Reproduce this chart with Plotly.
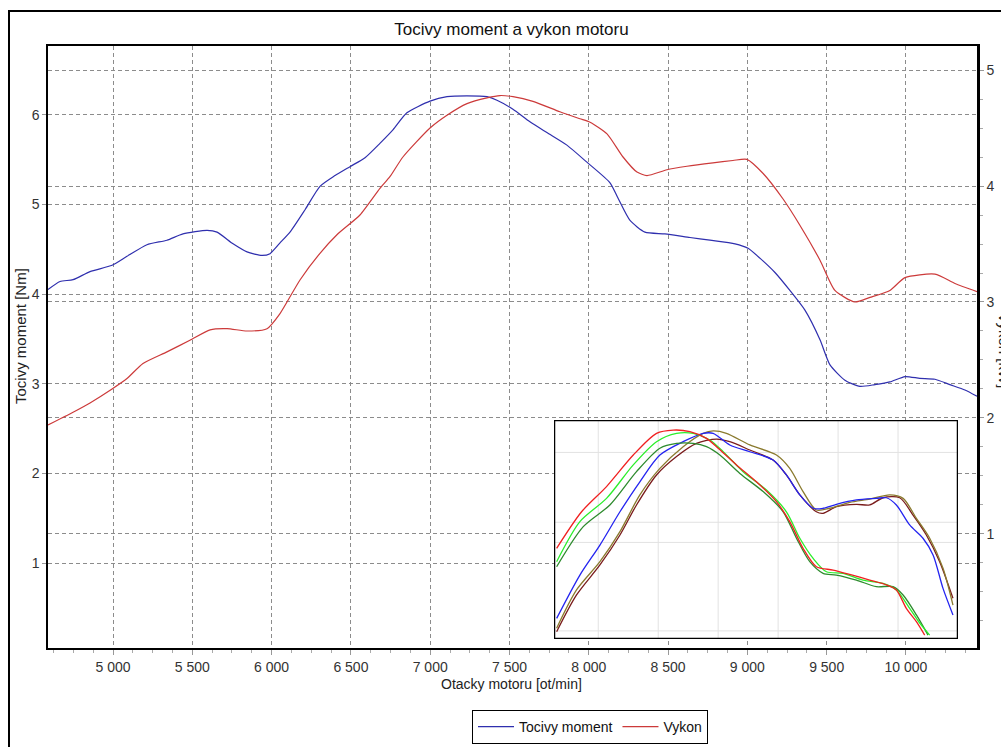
import plotly.graph_objects as go

# ---- main chart data ----
rpm_torque = [4590, 4666, 4748, 4855, 4994, 5088, 5214, 5340, 5441, 5593, 5656, 5757, 5845, 5939, 5990,
              6053, 6116, 6211, 6305, 6400, 6494, 6589, 6683, 6765, 6853, 6999, 7106, 7232, 7358, 7421,
              7522, 7629, 7736, 7862, 7988, 8134, 8184, 8260, 8354, 8480, 8638, 8764, 8922, 9004, 9079,
              9174, 9268, 9363, 9458, 9521, 9615, 9710, 9804, 9899, 9994, 10088, 10183, 10277, 10372, 10448]
torque_nm = [4.05, 4.14, 4.16, 4.25, 4.32, 4.42, 4.55, 4.60, 4.67, 4.71, 4.69, 4.56, 4.47, 4.43, 4.45,
             4.57, 4.69, 4.94, 5.20, 5.32, 5.42, 5.52, 5.68, 5.83, 6.02, 6.15, 6.20, 6.21, 6.20, 6.16,
             6.06, 5.92, 5.80, 5.66, 5.47, 5.24, 5.07, 4.82, 4.69, 4.67, 4.63, 4.60, 4.56, 4.51, 4.40,
             4.24, 4.04, 3.82, 3.49, 3.21, 3.04, 2.97, 2.99, 3.02, 3.08, 3.06, 3.05, 2.99, 2.93, 2.86]

rpm_power = [4590, 4748, 4855, 4994, 5088, 5189, 5340, 5485, 5612, 5719, 5845, 5971, 6053, 6179, 6305,
             6412, 6557, 6683, 6746, 6828, 6999, 7106, 7232, 7358, 7440, 7522, 7648, 7818, 7944, 8008,
             8115, 8216, 8304, 8367, 8493, 8619, 8783, 8909, 8997, 9098, 9224, 9332, 9458, 9552, 9678,
             9773, 9899, 9994, 10183, 10309, 10448]
power_kw = [1.94, 2.05, 2.13, 2.25, 2.34, 2.47, 2.57, 2.67, 2.76, 2.77, 2.75, 2.77, 2.90, 3.19, 3.42,
            3.58, 3.75, 3.98, 4.08, 4.25, 4.50, 4.61, 4.71, 4.76, 4.78, 4.77, 4.73, 4.64, 4.58, 4.55,
            4.45, 4.25, 4.12, 4.09, 4.14, 4.17, 4.20, 4.22, 4.23, 4.11, 3.89, 3.66, 3.36, 3.10, 3.00,
            3.04, 3.10, 3.21, 3.24, 3.16, 3.09]

# ---- inset comparison curves (relative units) ----
inset_red_x = [7153, 7361, 7569, 7792, 7986, 8125, 8264, 8403, 8486, 8653, 8819, 8986, 9097, 9208, 9319,
               9458, 9597, 9764, 9903, 9986, 10069, 10153, 10222]
inset_red_y = [41.4, 58.1, 69.6, 84.0, 93.9, 95.4, 94.7, 91.6, 87.8, 79.5, 71.8, 62.7, 53.6, 41.4, 33.0,
               31.5, 29.5, 26.9, 24.7, 22.4, 14.0, 7.9, 1.8]
inset_lgreen_x = [7153, 7347, 7569, 7792, 7986, 8153, 8292, 8431, 8542, 8708, 8903, 9069, 9181, 9292, 9403,
                  9542, 9708, 9875, 9986, 10097, 10181, 10264]
inset_lgreen_y = [35.3, 53.6, 64.2, 79.5, 90.1, 93.9, 93.9, 90.9, 85.5, 76.4, 68.0, 58.1, 46.0, 36.8, 30.7,
                  30.0, 26.9, 25.4, 22.4, 14.0, 7.2, 1.8]
inset_dgreen_x = [7153, 7375, 7597, 7819, 8014, 8153, 8292, 8403, 8514, 8681, 8875, 9042, 9153, 9264, 9375,
                  9486, 9653, 9819, 9958, 10042, 10153, 10250]
inset_dgreen_y = [33.0, 51.3, 61.2, 76.4, 87.1, 89.3, 89.3, 87.8, 84.0, 75.6, 67.3, 58.1, 46.0, 35.3, 30.0,
                  29.2, 26.9, 23.9, 23.9, 20.1, 11.0, 1.8]
inset_blue_x = [7153, 7347, 7514, 7681, 7847, 8014, 8208, 8375, 8458, 8597, 8764, 8958, 9069, 9181, 9292,
                9375, 9486, 9653, 9819, 9903, 9986, 10097, 10208, 10292, 10375, 10458]
inset_blue_y = [9.4, 29.2, 42.9, 58.1, 71.8, 84.0, 90.1, 93.9, 93.9, 88.6, 85.5, 81.7, 74.9, 65.8, 59.7,
                59.7, 61.5, 63.5, 64.2, 64.5, 61.2, 52.1, 46.0, 38.4, 23.1, 11.0]
inset_dred_x = [7153, 7319, 7514, 7681, 7819, 7986, 8153, 8319, 8486, 8597, 8764, 8958, 9069, 9181, 9319,
                9375, 9486, 9653, 9764, 9875, 10014, 10125, 10236, 10347, 10458]
inset_dred_y = [3.3, 20.1, 33.8, 47.5, 61.2, 74.9, 83.3, 89.3, 91.3, 90.1, 86.3, 81.7, 74.9, 65.8, 58.1,
                57.4, 60.4, 61.5, 61.2, 64.5, 64.5, 56.6, 47.5, 35.3, 18.6]
inset_olive_x = [7153, 7319, 7514, 7681, 7847, 8014, 8208, 8375, 8458, 8569, 8764, 8986, 9097, 9208, 9319,
                 9431, 9597, 9764, 9931, 10042, 10153, 10264, 10375, 10458]
inset_olive_y = [4.9, 22.4, 35.3, 49.0, 65.8, 77.9, 87.8, 93.9, 95.0, 93.9, 88.6, 84.0, 77.9, 67.3, 58.9,
                 59.7, 62.4, 63.9, 65.8, 64.2, 55.1, 46.0, 32.3, 15.5]

FONT = "Liberation Sans, Arial, sans-serif"
INSET_X = [7131, 10500]
INSET_Y = [0, 100]

# plot-area geometry (pixels) used to place layout items
PL, PR, PT, PB = 48, 977, 46, 648
PW, PH = PR - PL, PB - PT


def px(x):
    return (x - PL) / PW


def py(y):
    return (PB - y) / PH


fig = go.Figure()

fig.add_trace(go.Scatter(x=rpm_torque, y=torque_nm, name="Tocivy moment", mode="lines",
                         line=dict(color="#2f2fae", width=1.2, shape="spline", smoothing=0.6),
                         xaxis="x", yaxis="y"))
fig.add_trace(go.Scatter(x=rpm_power, y=power_kw, name="Vykon", mode="lines",
                         line=dict(color="#cc3a3a", width=1.2, shape="spline", smoothing=0.6),
                         xaxis="x", yaxis="y2"))

inset = [
    (inset_dred_x, inset_dred_y, "#7a1c1c"),
    (inset_olive_x, inset_olive_y, "#8a7a2e"),
    (inset_blue_x, inset_blue_y, "#2424f0"),
    (inset_dgreen_x, inset_dgreen_y, "#2e8b2e"),
    (inset_lgreen_x, inset_lgreen_y, "#2bee2b"),
    (inset_red_x, inset_red_y, "#f02020"),
]
for xs, ys, c in inset:
    fig.add_trace(go.Scatter(x=xs, y=ys, mode="lines", showlegend=False, hoverinfo="skip",
                             line=dict(color=c, width=1.3, shape="spline", smoothing=0.8),
                             xaxis="x3", yaxis="y3"))

grid = dict(showgrid=True, gridcolor="#8c8c8c", gridwidth=1, griddash="4px,3px")

fig.update_layout(
    width=1001, height=747,
    margin=dict(l=PL, r=1001 - PR, t=PT, b=747 - PB, autoexpand=False),
    paper_bgcolor="white", plot_bgcolor="white",
    font=dict(family=FONT, size=14, color="#222"),
    separators=". ",
    showlegend=True,
    title=dict(text="Tocivy moment a vykon motoru", x=0.511, xref="container", xanchor="center",
               y=1 - 29 / 747, yref="container", yanchor="middle",
               font=dict(family=FONT, size=17, color="#111")),
    xaxis=dict(range=[4590, 10448], tick0=5000, dtick=500, separatethousands=True, exponentformat="none",
               ticks="outside", ticklen=5, tickcolor="#999", tickfont=dict(size=14, color="#333"),
               minor=dict(dtick=125, tick0=5000, ticks="outside", ticklen=3, tickcolor="#aaa"),
               showline=True, linecolor="black", linewidth=1.5, mirror=True,
               zeroline=False, **grid),
    yaxis=dict(range=[0.054, 6.765], dtick=1, tick0=0, ticks="outside", ticklen=4, tickcolor="#999",
               tickfont=dict(size=14, color="#333"),
               showline=True, linecolor="black", linewidth=1.5, zeroline=False, **grid),
    yaxis2=dict(range=[0.017, 5.207], dtick=1, tick0=0, overlaying="y", side="right",
                ticks="outside", ticklen=4, tickcolor="#999", tickfont=dict(size=14, color="#333"),
                minor=dict(dtick=0.25, ticks="outside", ticklen=3, tickcolor="#aaa"),
                showline=True, linecolor="black", linewidth=2.5, zeroline=False, **grid),
    xaxis3=dict(domain=[px(554), px(958)], anchor="y3", range=INSET_X,
                showticklabels=False, ticks="", showgrid=False, zeroline=False, showline=False),
    yaxis3=dict(domain=[py(639), py(420)], anchor="x3", range=INSET_Y,
                showticklabels=False, ticks="", showgrid=False, zeroline=False, showline=False),
    legend=dict(orientation="h", x=px(472), xanchor="left", y=py(744), yanchor="bottom",
                bordercolor="black", borderwidth=1, bgcolor="white",
                font=dict(family=FONT, size=14, color="#111"),
                itemwidth=36, tracegroupgap=0),
)

shapes = []
# inset white background, grid lines, border (in inset axis units)
shapes.append(dict(type="rect", xref="x3", yref="y3", x0=INSET_X[0], x1=INSET_X[1],
                   y0=INSET_Y[0], y1=INSET_Y[1],
                   fillcolor="white", line=dict(width=0), layer="between"))
for gx in [7500, 8000, 8500, 9000, 9500, 10000]:
    shapes.append(dict(type="line", xref="x3", yref="y3", x0=gx, x1=gx, y0=INSET_Y[0], y1=INSET_Y[1],
                       line=dict(color="#e2e2e2", width=1), layer="between"))
for gy in [3.7, 44.1, 53.3, 85.2]:
    shapes.append(dict(type="line", xref="x3", yref="y3", x0=INSET_X[0], x1=INSET_X[1], y0=gy, y1=gy,
                       line=dict(color="#e2e2e2", width=1), layer="between"))
shapes.append(dict(type="rect", xref="x3", yref="y3", x0=INSET_X[0], x1=INSET_X[1],
                   y0=INSET_Y[0], y1=INSET_Y[1],
                   line=dict(color="black", width=2.5), layer="above"))
# outer window frame (only left and top edges are visible)
shapes.append(dict(type="line", xref="paper", yref="paper", x0=px(9), x1=px(9), y0=py(10), y1=py(760),
                   line=dict(color="black", width=2), layer="above"))
shapes.append(dict(type="line", xref="paper", yref="paper", x0=px(8), x1=px(1010), y0=py(11), y1=py(11),
                   line=dict(color="black", width=2), layer="above"))
fig.update_layout(shapes=shapes)

fig.add_annotation(text="Otacky motoru [ot/min]", xref="paper", yref="paper",
                   x=px(511), y=py(684), showarrow=False,
                   font=dict(family=FONT, size=14, color="#222"), xanchor="center", yanchor="middle")
fig.add_annotation(text="Tocivy moment [Nm]", xref="paper", yref="paper",
                   x=px(20), y=py(336), showarrow=False, textangle=-90,
                   font=dict(family=FONT, size=15, color="#222"), xanchor="center", yanchor="middle")
fig.add_annotation(text="Vykon [kW]", xref="paper", yref="paper",
                   x=px(1005), y=py(350), showarrow=False, textangle=90,
                   font=dict(family=FONT, size=15, color="#222"), xanchor="center", yanchor="middle")

fig.write_html("out.html")
